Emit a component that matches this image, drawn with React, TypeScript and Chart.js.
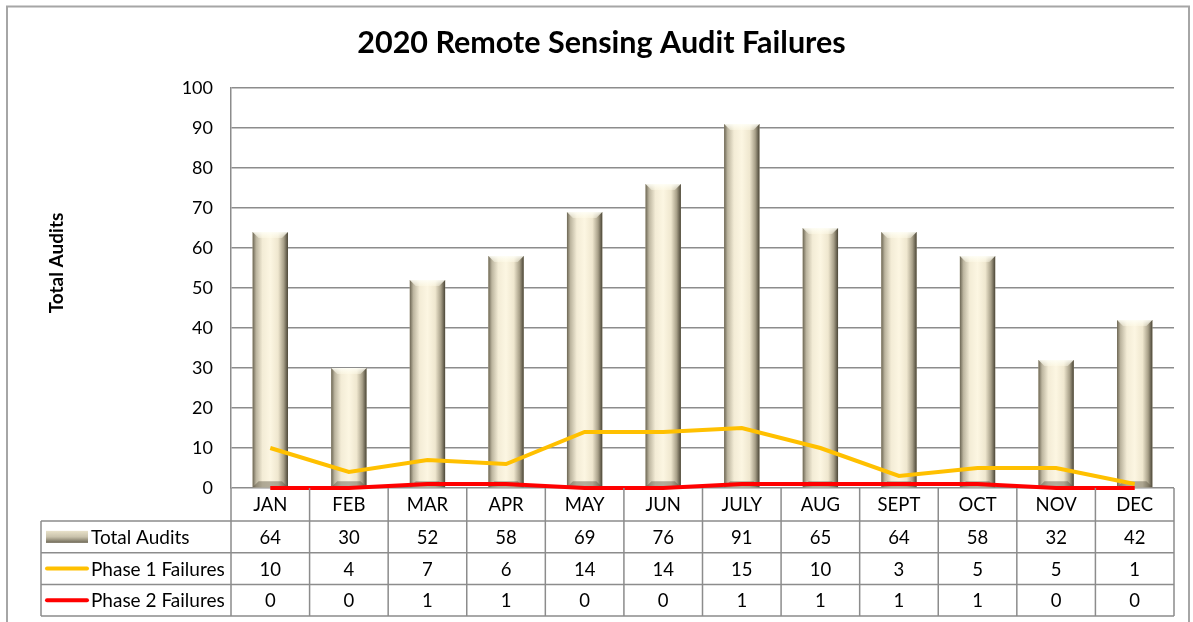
import React, { useEffect, useRef } from "react";
import { Chart, registerables } from "chart.js";

Chart.register(...registerables);

const categories = ["JAN", "FEB", "MAR", "APR", "MAY", "JUN", "JULY", "AUG", "SEPT", "OCT", "NOV", "DEC"];
const totalAudits = [64, 30, 52, 58, 69, 76, 91, 65, 64, 58, 32, 42];
const phase1Failures = [10, 4, 7, 6, 14, 14, 15, 10, 3, 5, 5, 1];
const phase2Failures = [0, 0, 1, 1, 0, 0, 1, 1, 1, 1, 0, 0];
const seriesNames = ["Total Audits", "Phase 1 Failures", "Phase 2 Failures"];
const titleText = "2020 Remote Sensing Audit Failures";
const yTitle = "Total Audits";

const FONT = "Lato, 'Open Sans', sans-serif";
const GRID = "#8c8c8c";
const YELLOW = "#FFC000";
const RED = "#FF0000";

function barGradient(ctx: CanvasRenderingContext2D, left: number, right: number) {
  const g = ctx.createLinearGradient(left, 0, right, 0);
  g.addColorStop(0, "#6b6553");
  g.addColorStop(0.1, "#bcb59f");
  g.addColorStop(0.28, "#f3ecd6");
  g.addColorStop(0.5, "#fcf6e2");
  g.addColorStop(0.72, "#efe7cf");
  g.addColorStop(0.88, "#a8a089");
  g.addColorStop(1, "#4a4536");
  return g;
}

const barStylePlugin = {
  id: "barStyle",
  afterDatasetDraw(chart: any, args: any) {
    if (args.index !== 0) return;
    const ctx: CanvasRenderingContext2D = chart.ctx;
    ctx.save();
    args.meta.data.forEach((el: any) => {
      const l = el.x - el.width / 2;
      const r = el.x + el.width / 2;
      const t = el.y;
      const b = el.base;
      const bev = 6;
      ctx.fillStyle = barGradient(ctx, l, r);
      ctx.fillRect(l, t, r - l, b - t);
      const tg = ctx.createLinearGradient(0, t, 0, t + bev);
      tg.addColorStop(0, "rgba(255,255,248,0.9)");
      tg.addColorStop(1, "rgba(255,252,235,0.4)");
      ctx.fillStyle = tg;
      ctx.beginPath();
      ctx.moveTo(l, t);
      ctx.lineTo(r, t);
      ctx.lineTo(r - bev, t + bev);
      ctx.lineTo(l + bev, t + bev);
      ctx.closePath();
      ctx.fill();
      ctx.fillStyle = "rgba(90,84,66,0.45)";
      ctx.beginPath();
      ctx.moveTo(l, b);
      ctx.lineTo(r, b);
      ctx.lineTo(r - bev, b - bev);
      ctx.lineTo(l + bev, b - bev);
      ctx.closePath();
      ctx.fill();
    });
    ctx.restore();
  },
};

const tablePlugin = {
  id: "dataTable",
  afterDraw(chart: any) {
    const ctx: CanvasRenderingContext2D = chart.ctx;
    const { left, right, top, bottom } = chart.chartArea;
    const xs = chart.scales.x;
    const n = categories.length;
    const cw = (right - left) / n;
    const catH = 33;
    const rowH = 31.7;
    const tableLeft = 41;
    const rowsTop = bottom + catH;
    const tableBottom = rowsTop + rowH * 3;

    ctx.save();
    // outer frame
    ctx.strokeStyle = "#a6a6a6";
    ctx.lineWidth = 2;
    ctx.strokeRect(7, 6.5, 1182, 700);

    // chart title
    ctx.fillStyle = "#000";
    ctx.textAlign = "center";
    ctx.textBaseline = "middle";
    ctx.font = `bold 30.5px ${FONT}`;
    ctx.fillText(titleText, 601.5, 43);

    // y axis title
    ctx.font = `bold 19px ${FONT}`;
    ctx.save();
    ctx.translate(57, top + (bottom - top) * 0.4375);
    ctx.rotate(-Math.PI / 2);
    ctx.fillText(yTitle, 0, 0);
    ctx.restore();

    // table grid lines
    ctx.strokeStyle = GRID;
    ctx.lineWidth = 1.5;
    ctx.beginPath();
    for (let k = 0; k <= n; k++) {
      const x = left + k * cw;
      ctx.moveTo(x, bottom);
      ctx.lineTo(x, tableBottom);
    }
    for (let r = 0; r <= 3; r++) {
      const y = rowsTop + r * rowH;
      ctx.moveTo(tableLeft, y);
      ctx.lineTo(right, y);
    }
    ctx.moveTo(tableLeft, rowsTop);
    ctx.lineTo(tableLeft, tableBottom);
    ctx.stroke();

    ctx.fillStyle = "#000";
    ctx.font = `18.5px ${FONT}`;
    ctx.textAlign = "center";
    ctx.textBaseline = "middle";
    categories.forEach((c, i) => {
      ctx.fillText(c, xs.getPixelForValue(i), bottom + catH / 2 + 1);
    });
    const rows = [totalAudits, phase1Failures, phase2Failures];
    rows.forEach((vals, r) => {
      const cy = rowsTop + r * rowH + rowH / 2 + 1;
      vals.forEach((v, i) => {
        ctx.fillText(String(v), xs.getPixelForValue(i), cy);
      });
    });

    ctx.textAlign = "left";
    ctx.font = `19px ${FONT}`;
    seriesNames.forEach((name, r) => {
      const cy = rowsTop + r * rowH + rowH / 2;
      if (r === 0) {
        const g = ctx.createLinearGradient(0, cy - 6, 0, cy + 6);
        g.addColorStop(0, "#e8e1c9");
        g.addColorStop(0.5, "#c9c2ab");
        g.addColorStop(1, "#6e6856");
        ctx.fillStyle = g;
        ctx.fillRect(46, cy - 6, 42, 12);
      } else {
        ctx.strokeStyle = r === 1 ? YELLOW : RED;
        ctx.lineWidth = 4;
        ctx.lineCap = "round";
        ctx.beginPath();
        ctx.moveTo(47, cy);
        ctx.lineTo(87, cy);
        ctx.stroke();
      }
      ctx.fillStyle = "#000";
      ctx.fillText(name, 91, cy + 1);
    });
    ctx.restore();
  },
};

export default function App() {
  const ref = useRef<HTMLCanvasElement | null>(null);
  useEffect(() => {
    document.body.style.margin = "0";
    if (!ref.current) return;
    const chart = new Chart(ref.current, {
      type: "bar",
      data: {
        labels: categories,
        datasets: [
          {
            type: "bar",
            label: seriesNames[0],
            data: totalAudits,
            backgroundColor: "#e8e0c8",
            borderWidth: 0,
            barPercentage: 0.45,
            categoryPercentage: 1,
            order: 3,
          },
          {
            type: "line",
            label: seriesNames[1],
            data: phase1Failures,
            borderColor: YELLOW,
            backgroundColor: YELLOW,
            borderWidth: 4,
            pointRadius: 0,
            tension: 0,
            clip: false,
            order: 2,
          } as any,
          {
            type: "line",
            label: seriesNames[2],
            data: phase2Failures,
            borderColor: RED,
            backgroundColor: RED,
            borderWidth: 4,
            pointRadius: 0,
            tension: 0,
            clip: false,
            order: 1,
          } as any,
        ],
      },
      options: {
        responsive: false,
        animation: false,
        layout: { padding: { left: 0, right: 19, top: 88, bottom: 0 } },
        plugins: {
          legend: { display: false },
          tooltip: { enabled: false },
          title: { display: false },
        },
        scales: {
          x: {
            type: "category",
            offset: true,
            grid: { display: false },
            border: { display: false },
            ticks: { display: false },
            afterFit: (s: any) => {
              s.height = 134;
            },
          },
          y: {
            min: 0,
            max: 100,
            ticks: {
              stepSize: 10,
              color: "#000",
              font: { family: FONT, size: 18 },
              padding: 18,
            },
            grid: { color: GRID, lineWidth: 1.5, drawTicks: false },
            border: { display: true, color: GRID, width: 1.5 },
            title: { display: false },
            afterFit: (s: any) => {
              s.width = 231;
            },
          },
        },
      },
      plugins: [barStylePlugin, tablePlugin],
    });
    return () => chart.destroy();
  }, []);
  return (
    <div style={{ width: 1193, height: 622, background: "#fff" }}>
      <canvas ref={ref} width={1193} height={622} />
    </div>
  );
}
